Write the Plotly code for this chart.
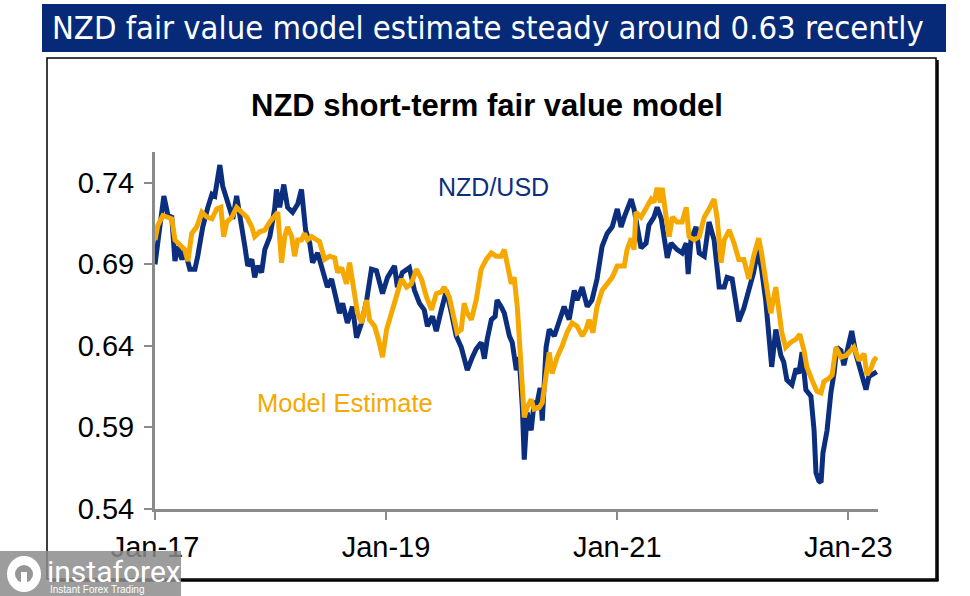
import plotly.graph_objects as go

# ---------------- data ----------------
nzd_dates = [
    "2017-01-01", "2017-01-29", "2017-02-11", "2017-02-23", "2017-03-05", "2017-03-14", "2017-03-27",
    "2017-04-05", "2017-04-21", "2017-05-07", "2017-05-16", "2017-06-01", "2017-06-17", "2017-06-30",
    "2017-07-09", "2017-07-25", "2017-08-03", "2017-08-16", "2017-08-25", "2017-09-04", "2017-09-16",
    "2017-09-29", "2017-10-12", "2017-10-21", "2017-11-03", "2017-11-12", "2017-11-22", "2017-12-04",
    "2017-12-14", "2017-12-30", "2018-01-14", "2018-01-20", "2018-01-30", "2018-02-12", "2018-02-24",
    "2018-03-12", "2018-03-28", "2018-04-09", "2018-04-22", "2018-05-05", "2018-05-14", "2018-05-30",
    "2018-06-15", "2018-06-30", "2018-07-13", "2018-07-29", "2018-08-07", "2018-08-17", "2018-09-01",
    "2018-09-17", "2018-09-30", "2018-10-16", "2018-11-01", "2018-11-16", "2018-12-02", "2018-12-21",
    "2019-01-06", "2019-01-28", "2019-02-06", "2019-02-22", "2019-03-16", "2019-04-01", "2019-04-17",
    "2019-05-02", "2019-05-12", "2019-05-28", "2019-06-09", "2019-06-25", "2019-07-11", "2019-07-27",
    "2019-08-11", "2019-08-27", "2019-09-05", "2019-09-15", "2019-10-01", "2019-10-13", "2019-10-29",
    "2019-11-08", "2019-11-17", "2019-11-30", "2019-12-12", "2019-12-18", "2019-12-31", "2020-01-10",
    "2020-01-26", "2020-02-04", "2020-02-17", "2020-02-26", "2020-03-07", "2020-03-13", "2020-03-22",
    "2020-04-04", "2020-04-13", "2020-04-23", "2020-05-02", "2020-05-09", "2020-05-21", "2020-05-31",
    "2020-06-16", "2020-07-01", "2020-07-17", "2020-08-02", "2020-08-18", "2020-08-27", "2020-09-12",
    "2020-09-28", "2020-10-13", "2020-10-29", "2020-11-14", "2020-11-30", "2020-12-16", "2021-01-01",
    "2021-01-13", "2021-01-23", "2021-02-14", "2021-02-23", "2021-03-05", "2021-03-17", "2021-04-02",
    "2021-04-11", "2021-04-27", "2021-05-07", "2021-05-20", "2021-05-29", "2021-06-08", "2021-06-20",
    "2021-07-09", "2021-07-25", "2021-08-07", "2021-08-13", "2021-08-22", "2021-09-07", "2021-09-17",
    "2021-10-03", "2021-10-18", "2021-11-03", "2021-11-19", "2021-12-05", "2021-12-14", "2021-12-30",
    "2022-01-11", "2022-01-20", "2022-02-05", "2022-02-21", "2022-03-08", "2022-03-21", "2022-04-02",
    "2022-04-15", "2022-04-25", "2022-05-04", "2022-05-17", "2022-06-02", "2022-06-11", "2022-06-21",
    "2022-07-07", "2022-07-20", "2022-07-29", "2022-08-08", "2022-08-20", "2022-09-05", "2022-09-15",
    "2022-09-21", "2022-09-30", "2022-10-07", "2022-10-13", "2022-10-26", "2022-11-07", "2022-11-17",
    "2022-11-26", "2022-12-09", "2022-12-18", "2022-12-28", "2023-01-12", "2023-01-25", "2023-02-10",
    "2023-02-26", "2023-03-07", "2023-03-23", "2023-04-01",
]
nzd_values = [
    0.690, 0.732, 0.720, 0.719, 0.692, 0.701, 0.693,
    0.699, 0.687, 0.687, 0.695, 0.713, 0.725, 0.733,
    0.732, 0.751, 0.738, 0.730, 0.726, 0.718, 0.732,
    0.718, 0.701, 0.689, 0.693, 0.682, 0.689, 0.685,
    0.699, 0.707, 0.724, 0.736, 0.725, 0.739, 0.725,
    0.722, 0.727, 0.736, 0.711, 0.703, 0.691, 0.697,
    0.685, 0.676, 0.681, 0.668, 0.660, 0.666, 0.654,
    0.664, 0.645, 0.654, 0.668, 0.687, 0.686, 0.672,
    0.682, 0.689, 0.676, 0.685, 0.688, 0.674, 0.666,
    0.662, 0.652, 0.658, 0.649, 0.662, 0.674, 0.660,
    0.646, 0.639, 0.633, 0.625, 0.633, 0.638, 0.642,
    0.632, 0.644, 0.656, 0.658, 0.668, 0.664, 0.660,
    0.646, 0.642, 0.625, 0.633, 0.602, 0.570, 0.599,
    0.588, 0.605, 0.605, 0.614, 0.594, 0.639, 0.650,
    0.646, 0.656, 0.664, 0.656, 0.674, 0.668, 0.676,
    0.664, 0.668, 0.681, 0.701, 0.709, 0.713, 0.724,
    0.713, 0.719, 0.730, 0.724, 0.713, 0.700, 0.703,
    0.714, 0.719, 0.725, 0.718, 0.707, 0.694, 0.703,
    0.699, 0.697, 0.703, 0.684, 0.705, 0.713, 0.697,
    0.695, 0.716, 0.705, 0.676, 0.676, 0.682, 0.681,
    0.666, 0.655, 0.663, 0.674, 0.685, 0.699, 0.687,
    0.668, 0.644, 0.627, 0.650, 0.634, 0.630, 0.619,
    0.616, 0.626, 0.623, 0.636, 0.613, 0.609, 0.588,
    0.562, 0.557, 0.556, 0.574, 0.588, 0.611, 0.623,
    0.639, 0.637, 0.628, 0.637, 0.649, 0.635, 0.623,
    0.613, 0.621, 0.623, 0.624,
]

model_dates = [
    "2017-01-01", "2017-01-10", "2017-01-26", "2017-02-11", "2017-02-23", "2017-03-05", "2017-03-14",
    "2017-03-27", "2017-04-05", "2017-04-15", "2017-04-27", "2017-05-13", "2017-05-29", "2017-06-14",
    "2017-06-30", "2017-07-15", "2017-07-28", "2017-08-06", "2017-08-16", "2017-09-01", "2017-09-16",
    "2017-10-02", "2017-10-18", "2017-11-03", "2017-11-12", "2017-11-28", "2017-12-14", "2017-12-30",
    "2018-01-14", "2018-01-24", "2018-02-05", "2018-02-15", "2018-02-24", "2018-03-09", "2018-03-18",
    "2018-03-28", "2018-04-09", "2018-04-19", "2018-04-28", "2018-05-11", "2018-05-27", "2018-06-05",
    "2018-06-21", "2018-07-07", "2018-07-23", "2018-08-01", "2018-08-14", "2018-08-29", "2018-09-08",
    "2018-09-17", "2018-10-03", "2018-10-16", "2018-11-01", "2018-11-10", "2018-11-26", "2018-12-08",
    "2018-12-21", "2019-01-03", "2019-01-18", "2019-02-03", "2019-02-19", "2019-03-07", "2019-03-22",
    "2019-04-07", "2019-04-23", "2019-05-09", "2019-05-25", "2019-06-09", "2019-06-25", "2019-07-04",
    "2019-07-20", "2019-08-05", "2019-08-14", "2019-08-27", "2019-09-05", "2019-09-15", "2019-09-28",
    "2019-10-13", "2019-10-29", "2019-11-14", "2019-11-30", "2019-12-15", "2019-12-31", "2020-01-10",
    "2020-01-19", "2020-02-01", "2020-02-10", "2020-02-20", "2020-03-03", "2020-03-13", "2020-03-22",
    "2020-04-04", "2020-04-13", "2020-04-29", "2020-05-09", "2020-05-21", "2020-05-31", "2020-06-09",
    "2020-06-25", "2020-07-11", "2020-07-26", "2020-08-11", "2020-08-27", "2020-09-12", "2020-09-24",
    "2020-10-04", "2020-10-16", "2020-10-29", "2020-11-14", "2020-11-30", "2020-12-16", "2021-01-01",
    "2021-01-23", "2021-02-01", "2021-02-14", "2021-02-23", "2021-03-01", "2021-03-17", "2021-04-02",
    "2021-04-18", "2021-04-27", "2021-05-07", "2021-05-17", "2021-05-23", "2021-06-05", "2021-06-14",
    "2021-06-24", "2021-07-09", "2021-07-25", "2021-08-07", "2021-08-16", "2021-09-01", "2021-09-17",
    "2021-10-03", "2021-10-18", "2021-11-03", "2021-11-13", "2021-11-25", "2021-12-05", "2021-12-21",
    "2022-01-05", "2022-01-20", "2022-02-05", "2022-02-21", "2022-03-08", "2022-03-24", "2022-04-02",
    "2022-04-15", "2022-05-01", "2022-05-17", "2022-05-26", "2022-06-05", "2022-06-17", "2022-07-03",
    "2022-07-20", "2022-08-01", "2022-08-14", "2022-08-23", "2022-09-08", "2022-09-24", "2022-10-07",
    "2022-10-16", "2022-11-01", "2022-11-11", "2022-11-23", "2022-12-09", "2022-12-25", "2023-01-09",
    "2023-01-19", "2023-02-04", "2023-02-20", "2023-03-01", "2023-03-14", "2023-03-23", "2023-04-01",
]
model_values = [
    0.705, 0.714, 0.720, 0.719, 0.718, 0.705, 0.703,
    0.701, 0.699, 0.692, 0.709, 0.713, 0.722, 0.719,
    0.718, 0.724, 0.725, 0.707, 0.716, 0.719, 0.725,
    0.722, 0.719, 0.713, 0.707, 0.710, 0.711, 0.716,
    0.719, 0.722, 0.691, 0.707, 0.713, 0.707, 0.695,
    0.705, 0.705, 0.709, 0.705, 0.707, 0.705, 0.704,
    0.693, 0.695, 0.694, 0.685, 0.688, 0.678, 0.691,
    0.681, 0.660, 0.654, 0.668, 0.656, 0.652, 0.644,
    0.633, 0.650, 0.660, 0.670, 0.681, 0.676, 0.678,
    0.687, 0.681, 0.670, 0.662, 0.672, 0.673, 0.676,
    0.670, 0.656, 0.648, 0.650, 0.666, 0.660, 0.656,
    0.668, 0.687, 0.693, 0.697, 0.695, 0.695, 0.699,
    0.689, 0.678, 0.682, 0.664, 0.627, 0.596, 0.602,
    0.607, 0.601, 0.602, 0.605, 0.623, 0.636, 0.623,
    0.633, 0.640, 0.648, 0.654, 0.652, 0.646, 0.650,
    0.656, 0.648, 0.664, 0.674, 0.678, 0.682, 0.689,
    0.689, 0.699, 0.706, 0.699, 0.722, 0.719, 0.725,
    0.730, 0.728, 0.737, 0.728, 0.737, 0.718, 0.707,
    0.719, 0.716, 0.716, 0.725, 0.707, 0.705, 0.707,
    0.719, 0.724, 0.730, 0.718, 0.691, 0.705, 0.711,
    0.703, 0.693, 0.693, 0.681, 0.695, 0.706, 0.697,
    0.680, 0.660, 0.676, 0.664, 0.648, 0.639, 0.642,
    0.644, 0.647, 0.637, 0.627, 0.619, 0.612, 0.611,
    0.618, 0.620, 0.622, 0.639, 0.633, 0.634, 0.637,
    0.639, 0.631, 0.635, 0.622, 0.626, 0.631, 0.633,
]

x_tick_vals = ["2017-01-01", "2019-01-01", "2021-01-01", "2023-01-01"]
x_tick_text = ["Jan-17", "Jan-19", "Jan-21", "Jan-23"]
y_tick_vals = [0.54, 0.59, 0.64, 0.69, 0.74]
y_tick_text = ["0.54", "0.59", "0.64", "0.69", "0.74"]
x_range = ["2017-01-01", "2023-04-05"]
y_range = [0.54, 0.759]

header_text = "NZD fair value model estimate steady around 0.63 recently"
chart_title = "NZD short-term fair value model"
nzd_label = "NZD/USD"
model_label = "Model Estimate"

# ---------------- styling ----------------
W, H = 970, 596
NAVY = "#0b2f7e"
GOLD = "#f5a800"
HEADER_BG = "#062a78"
AXIS_GREY = "#8a8a8a"
WM_GREY = "rgba(140,140,140,0.85)"
ARIAL = "Liberation Sans, Arial, Helvetica, sans-serif"
NARROW = "Liberation Sans Narrow, Arial Narrow, DejaVu Sans Condensed, sans-serif"


def px(x):
    return x / W


def py(y):
    return 1 - y / H


fig = go.Figure()
fig.add_trace(go.Scatter(x=nzd_dates, y=nzd_values, mode="lines", name=nzd_label,
                         line=dict(color=NAVY, width=5), hoverinfo="x+y"))
fig.add_trace(go.Scatter(x=model_dates, y=model_values, mode="lines", name=model_label,
                         line=dict(color=GOLD, width=5), hoverinfo="x+y"))

shapes = [
    # header band
    dict(type="rect", xref="paper", yref="paper", x0=px(42), x1=px(946), y0=py(52), y1=py(4),
         fillcolor=HEADER_BG, line=dict(width=0), layer="below"),
    # chart frame
    dict(type="rect", xref="paper", yref="paper", x0=px(47), x1=px(936), y0=py(579), y1=py(58),
         fillcolor="white", line=dict(color="black", width=1.5), layer="below"),
    # frame shadow (right and bottom)
    dict(type="line", xref="paper", yref="paper", x0=px(937.5), x1=px(937.5), y0=py(581), y1=py(60),
         line=dict(color="black", width=2.5)),
    dict(type="line", xref="paper", yref="paper", x0=px(49), x1=px(938.5), y0=py(580.5), y1=py(580.5),
         line=dict(color="black", width=2.5)),
    # watermark box
    dict(type="rect", xref="paper", yref="paper", x0=0, x1=px(181), y0=0, y1=py(551),
         fillcolor=WM_GREY, line=dict(width=0)),
    # watermark logo (gear-like disc)
    dict(type="circle", xref="paper", yref="paper", x0=px(7), x1=px(41), y0=py(592), y1=py(556),
         fillcolor="white", line=dict(width=0)),
    dict(type="circle", xref="paper", yref="paper", x0=px(15), x1=px(33), y0=py(583), y1=py(565),
         fillcolor="rgb(150,150,150)", line=dict(width=0)),
    dict(type="rect", xref="paper", yref="paper", x0=px(21), x1=px(27), y0=py(590), y1=py(572),
         fillcolor="white", line=dict(width=0)),
]

annotations = [
    dict(text=header_text, xref="paper", yref="paper", x=px(488), y=py(28), showarrow=False,
         font=dict(family=NARROW, size=32.5, color="white"), xanchor="center", yanchor="middle"),
    dict(text="<b>" + chart_title + "</b>", xref="paper", yref="paper", x=px(487), y=py(105),
         showarrow=False, font=dict(family=ARIAL, size=31, color="black"),
         xanchor="center", yanchor="middle"),
    dict(text=nzd_label, xref="paper", yref="paper", x=px(493), y=py(187), showarrow=False,
         font=dict(family=ARIAL, size=25, color=NAVY), xanchor="center", yanchor="middle"),
    dict(text=model_label, xref="paper", yref="paper", x=px(345), y=py(403), showarrow=False,
         font=dict(family=ARIAL, size=25.5, color=GOLD), xanchor="center", yanchor="middle"),
    dict(text="instaforex", xref="paper", yref="paper", x=px(45), y=py(571), showarrow=False,
         font=dict(family="Roboto, Liberation Sans, sans-serif", size=30, color="white"),
         xanchor="left", yanchor="middle"),
    dict(text="Instant Forex Trading", xref="paper", yref="paper", x=px(48), y=py(589.5), showarrow=False,
         font=dict(family="Liberation Sans Narrow, Liberation Sans, sans-serif", size=10, color="white"),
         xanchor="left", yanchor="middle"),
]

fig.update_layout(
    width=W, height=H,
    margin=dict(l=0, r=0, t=0, b=0, autoexpand=False),
    paper_bgcolor="white", plot_bgcolor="rgba(0,0,0,0)",
    showlegend=False,
    shapes=shapes,
    annotations=annotations,
    xaxis=dict(
        type="date", range=x_range, domain=[px(155), px(878)], automargin=False,
        tickvals=x_tick_vals, ticktext=x_tick_text,
        showgrid=False, zeroline=False,
        showline=True, linecolor=AXIS_GREY, linewidth=3,
        ticks="outside", ticklen=8, tickwidth=2, tickcolor=AXIS_GREY,
        tickfont=dict(family=ARIAL, size=29, color="black"),
        ticklabelstandoff=3,
    ),
    yaxis=dict(
        range=y_range, domain=[py(508.5), py(152)], automargin=False,
        tickvals=y_tick_vals, ticktext=y_tick_text,
        showgrid=False, zeroline=False,
        showline=True, linecolor=AXIS_GREY, linewidth=3,
        ticks="outside", ticklen=8, tickwidth=2, tickcolor=AXIS_GREY,
        tickfont=dict(family=ARIAL, size=29, color="black"),
        ticklabelstandoff=4,
    ),
)

fig.write_html(
    "out.html",
    config={"displayModeBar": False},
    post_script="document.body.style.margin='0';document.body.style.padding='0';"
                "document.documentElement.style.overflow='hidden';",
)
